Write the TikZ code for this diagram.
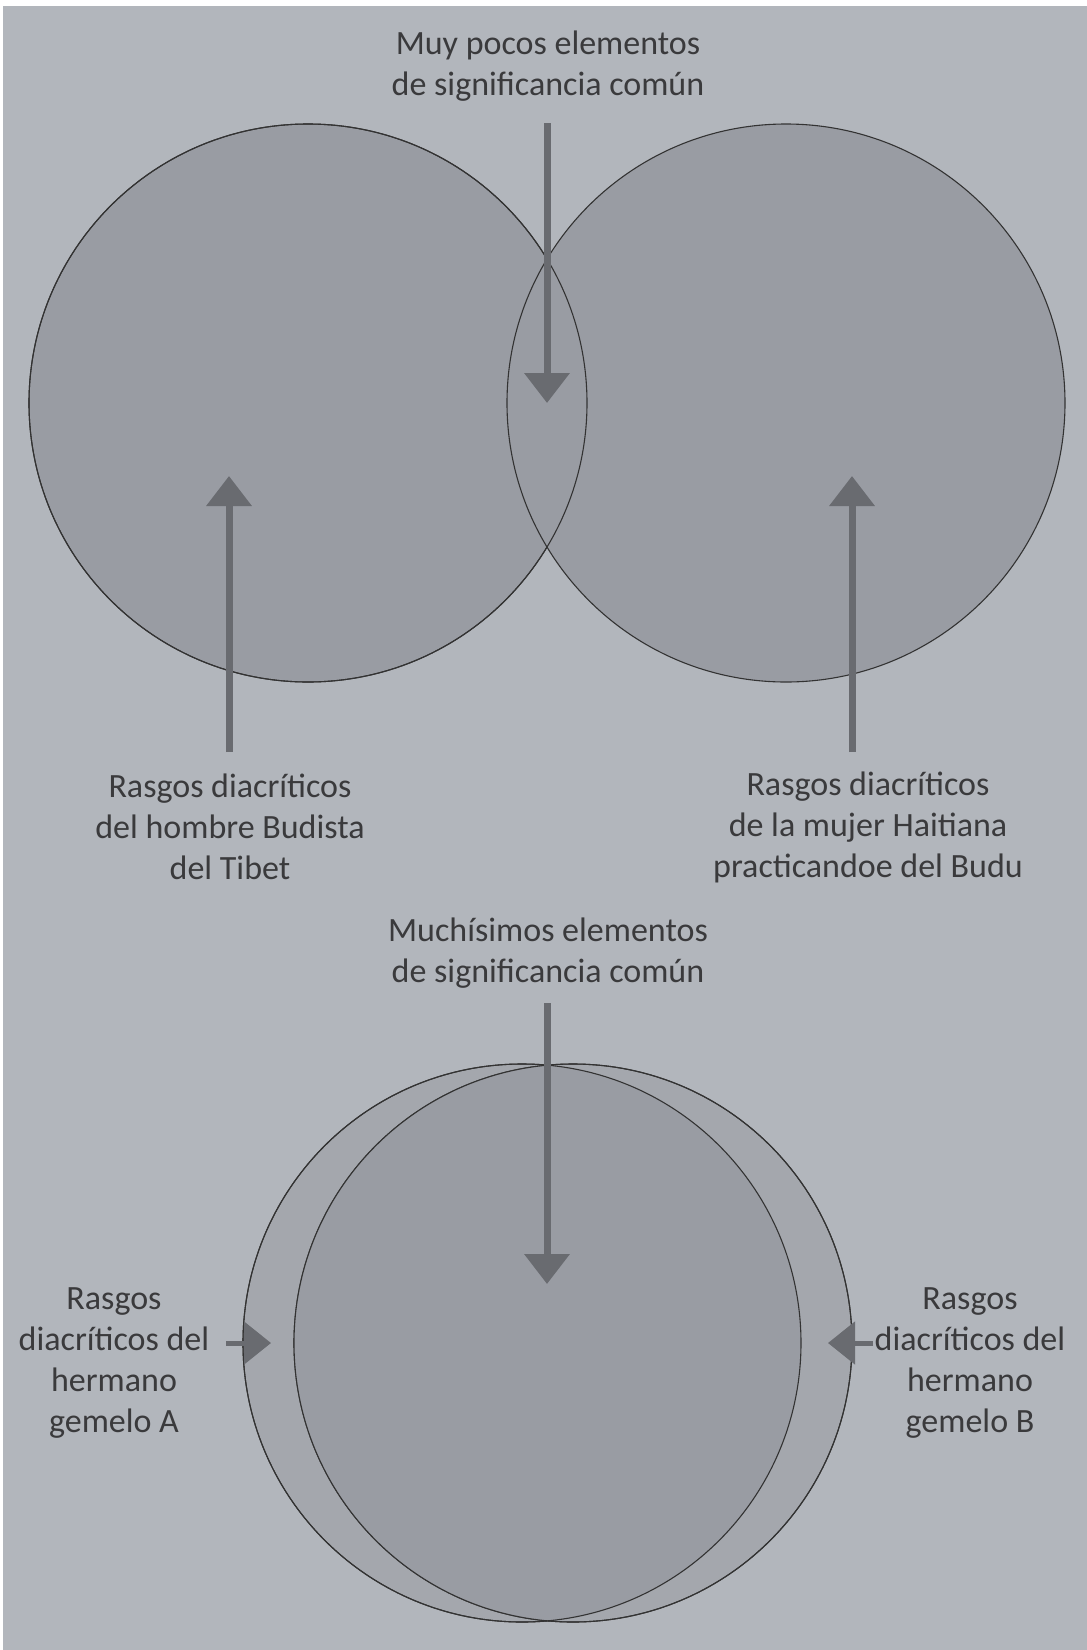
\documentclass[tikz,border=0pt]{standalone}
\usepackage{fontspec}
\setmainfont{Carlito}
\usetikzlibrary{arrows.meta}
\definecolor{bg}{HTML}{B2B6BC}
\definecolor{circ}{HTML}{999CA3}
\definecolor{cres}{HTML}{A4A7AD}
\definecolor{arr}{HTML}{696B70}
\definecolor{txt}{HTML}{3A3A3C}
\tikzset{
  lbl/.style={align=center, text=txt, font=\fontsize{34}{41}\selectfont, inner sep=0pt},
  ring/.style={circle, draw=black!80, line width=1.1pt, minimum size=558pt, inner sep=0pt},
  pointer/.style={draw=arr, line width=7pt, -{Triangle[length=30pt,width=44pt]}},
  spointer/.style={draw=arr, line width=5pt, -{Triangle[length=27pt,width=42pt]}},
}
\begin{document}
\begin{tikzpicture}[x=1pt,y=-1pt]
\useasboundingbox (0,0) rectangle (1087,1650);
\fill[white] (0,0) rectangle (1087,1650);
\fill[bg] (3,6) rectangle (1087,1650);
% top circles
\node[ring, fill=circ] (cL) at (308,403) {};
\node[ring, fill=circ] (cR) at (786,403) {};
\draw[black!80, line width=1.1pt] (308,403) circle[radius=279pt];
% bottom circles
\node[ring, fill=cres] (bL) at (522,1343) {};
\node[ring, fill=cres] (bR) at (573,1343) {};
\begin{scope}
  \clip (522,1343) circle[radius=279pt];
  \fill[circ] (573,1343) circle[radius=279pt];
\end{scope}
\draw[black!80, line width=1.1pt] (522,1343) circle[radius=279pt];
\draw[black!80, line width=1.1pt] (573,1343) circle[radius=279pt];
% texts
\node[lbl] (t1) at (548,66) {Muy pocos elementos\\de significancia común};
\node[lbl] (t2) at (230,827) {Rasgos diacríticos\\del hombre Budista\\del Tibet};
\node[lbl] (t3) at (868,827) {Rasgos diacríticos\\de la mujer Haitiana\\practicandoe del Budu};
\node[lbl] (t4) at (548,953) {Muchísimos elementos\\de significancia común};
\node[lbl] (t5) at (114,1363) {Rasgos\\diacríticos del\\hermano\\gemelo A};
\node[lbl] (t6) at (970,1363) {Rasgos\\diacríticos del\\hermano\\gemelo B};
% arrows
\coordinate (a1s) at (547,123);
\coordinate (a1e) at (547,403);
\coordinate (a2s) at (229,752);
\coordinate (a2e) at (229,476);
\coordinate (a3s) at (852,752);
\coordinate (a3e) at (852,476);
\coordinate (a4s) at (547,1003);
\coordinate (a4e) at (547,1284);
\coordinate (a5s) at (226,1343);
\coordinate (a5e) at (271,1343);
\coordinate (a6s) at (873,1343);
\coordinate (a6e) at (828,1343);
\draw[pointer] (a1s) -- (a1e);
\draw[pointer] (a2s) -- (a2e);
\draw[pointer] (a3s) -- (a3e);
\draw[pointer] (a4s) -- (a4e);
\draw[spointer] (a5s) -- (a5e);
\draw[spointer] (a6s) -- (a6e);
\end{tikzpicture}
\end{document}
